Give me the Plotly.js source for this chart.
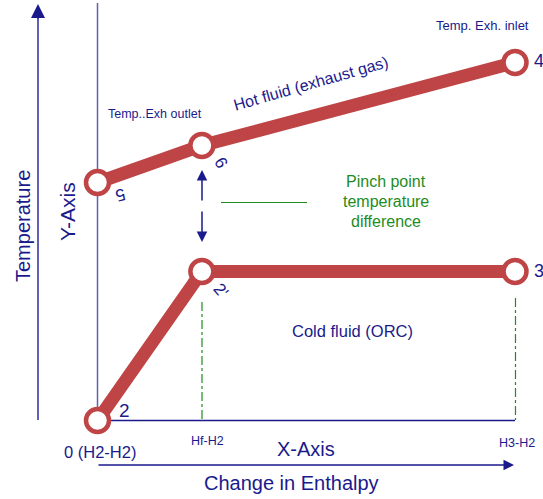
<!DOCTYPE html>
<html>
<head>
<meta charset="utf-8">
<script src="https://cdn.plot.ly/plotly-3.0.1.min.js"></script>
<style>html,body{margin:0;padding:0;background:#fff;}#chart{width:543px;height:499px;}</style>
</head>
<body>
<div id="chart"></div>
<script>
// Change in enthalpy (relative units) and temperature (relative units)
const coldEnthalpy = [0, 1, 4];        // 2, 2', 3
const coldTemp     = [0, 149, 149];
const hotEnthalpy  = [0, 1, 4];        // 5, 6, 4
const hotTemp      = [238, 275, 358];
const coldLabels = ['2', "2'", '3'];
const hotLabels  = ['5', '6', '4'];
const xTickLabels = ['0 (H2-H2)', 'Hf-H2', 'H3-H2'];

const W = 543, H = 499;
const P = x => x / W;          // pixel -> paper x
const Q = y => 1 - y / H;      // pixel -> paper y
const NAVY = '#1a1a8c', LIGHT = '#6060b4', RED = '#bf4446', GREEN = '#1e8c1e';
const FONT = 'Liberation Sans, Arial, sans-serif';

const markerStyle = {size: 23, color: '#ffffff', line: {color: RED, width: 4.5}};
const traces = [
  {x: coldEnthalpy, y: coldTemp, mode: 'lines+markers', line: {color: RED, width: 13}, marker: markerStyle, hoverinfo: 'skip', cliponaxis: false},
  {x: hotEnthalpy, y: hotTemp, mode: 'lines+markers', line: {color: RED, width: 13}, marker: markerStyle, hoverinfo: 'skip', cliponaxis: false}
];

function txt(x, y, text, size, color, extra) {
  return Object.assign({xref: 'paper', yref: 'paper', x: P(x), y: Q(y), text: text, showarrow: false,
    xanchor: 'center', yanchor: 'middle', font: {family: FONT, size: size, color: color}}, extra || {});
}
function arrow(tx, ty, fx, fy, color, width) {
  return {xref: 'paper', yref: 'paper', x: P(tx), y: Q(ty), axref: 'pixel', ayref: 'pixel',
    ax: fx - tx, ay: fy - ty, text: '', showarrow: true, arrowhead: 2, arrowsize: 1.4,
    arrowwidth: width, arrowcolor: color, standoff: 0, startstandoff: 0};
}
function line(x0, y0, x1, y1, color, width, dash) {
  return {type: 'line', xref: 'paper', yref: 'paper', x0: P(x0), y0: Q(y0), x1: P(x1), y1: Q(y1),
    line: {color: color, width: width, dash: dash || 'solid'}, layer: 'below'};
}

const shapes = [
  line(38, 14, 38, 420, LIGHT, 2),
  line(97.5, 3, 97.5, 420, LIGHT, 1.5),
  line(97.5, 420.5, 515, 420.5, NAVY, 1.5),
  line(202, 302, 202, 420, GREEN, 1.2, 'dashdot'),
  line(515.5, 298, 515.5, 420, GREEN, 1.2, 'dashdot'),
  line(221, 202.5, 307, 202.5, GREEN, 1.2)
];

const annotations = [
  arrow(38, 4, 38, 20, NAVY, 2),
  arrow(514, 465, 97, 465, NAVY, 1.5),
  arrow(202, 170, 202, 202, NAVY, 1.5),
  arrow(202, 242, 202, 210, NAVY, 1.5),
  txt(23, 226, 'Temperature', 20, NAVY, {textangle: -90}),
  txt(67, 212, 'Y-Axis', 21, NAVY, {textangle: -90}),
  txt(155, 114, 'Temp..Exh outlet', 12.5, NAVY),
  txt(482, 25, 'Temp. Exh. inlet', 13, NAVY),
  txt(311, 84, 'Hot fluid (exhaust gas)', 16, NAVY, {textangle: -16}),
  txt(121, 194, hotLabels[0], 17, NAVY, {textangle: 165}),
  txt(221, 162, hotLabels[1], 17, NAVY, {textangle: 60}),
  txt(539, 61, hotLabels[2], 18, NAVY),
  txt(124, 410, coldLabels[0], 19, NAVY),
  txt(221, 290, coldLabels[1], 17, NAVY, {textangle: 50}),
  txt(539, 271, coldLabels[2], 18, NAVY),
  txt(386, 182, 'Pinch point', 16, GREEN),
  txt(386, 202, 'temperature', 16, GREEN),
  txt(386, 221, 'difference', 16, GREEN),
  txt(352, 331, 'Cold fluid (ORC)', 16.5, NAVY),
  txt(100, 452, xTickLabels[0], 16.5, NAVY),
  txt(207, 441, xTickLabels[1], 12.5, NAVY),
  txt(517, 443, xTickLabels[2], 12.5, NAVY),
  txt(306, 449, 'X-Axis', 20, NAVY),
  txt(291, 483, 'Change in Enthalpy', 20, NAVY)
];

const xScale = (515 - 97.5) / 4;
const layout = {
  width: W, height: H,
  margin: {l: 0, r: 0, t: 0, b: 0, pad: 0},
  paper_bgcolor: '#ffffff', plot_bgcolor: '#ffffff',
  showlegend: false,
  xaxis: {range: [-97.5 / xScale, (W - 97.5) / xScale], visible: false, fixedrange: true},
  yaxis: {range: [-(H - 420.5), 420.5], visible: false, fixedrange: true},
  shapes: shapes,
  annotations: annotations
};
Plotly.newPlot('chart', traces, layout, {displayModeBar: false, staticPlot: true});
</script>
</body>
</html>
